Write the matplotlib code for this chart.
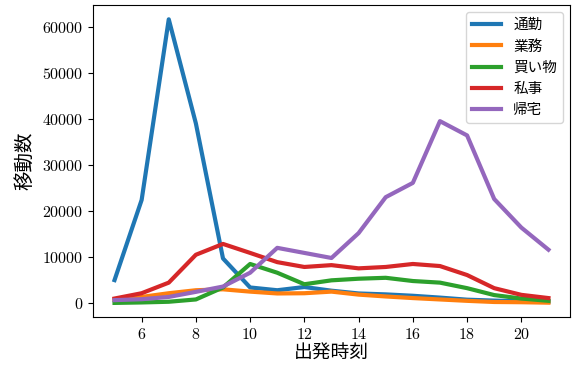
import numpy as np
import matplotlib.pyplot as plt

plt.rcParams['font.family'] = ['cmr10', 'Noto Sans CJK JP', 'DejaVu Sans']
plt.rcParams['axes.formatter.use_mathtext'] = True

hours = np.arange(5, 22)
tsukin = [5000, 22400, 61600, 39000, 9700, 3400, 2800, 3500, 2700, 2100, 1900, 1600, 1200, 750, 550, 400, 300]
gyomu = [850, 1350, 2150, 2800, 3000, 2500, 2100, 2150, 2500, 1850, 1450, 1100, 800, 500, 250, 200, 100]
kaimono = [50, 150, 300, 800, 3400, 8500, 6600, 4100, 4950, 5300, 5500, 4800, 4450, 3250, 1750, 1000, 500]
shiji = [1000, 2150, 4450, 10500, 12850, 10900, 8900, 7850, 8250, 7550, 7850, 8500, 8050, 6100, 3250, 1800, 1100]
kitaku = [650, 850, 1350, 2450, 3600, 6600, 12000, 10900, 9800, 15200, 23000, 26100, 39500, 36400, 22600, 16400, 11600]

labels = ['通勤', '業務', '買い物', '私事', '帰宅']
series = [tsukin, gyomu, kaimono, shiji, kitaku]

fig = plt.figure(figsize=(5.73, 3.67), dpi=100)
ax = fig.add_axes([0.162, 0.136, 0.833, 0.85])
for lab, vals in zip(labels, series):
    ax.plot(hours, vals, linewidth=3, label=lab)

ax.set_xticks(range(6, 22, 2))
ax.set_yticks(range(0, 60001, 10000))
ax.tick_params(labelsize=11.5)
ax.set_xlabel('出発時刻', fontsize=13.5, family=['Noto Sans CJK JP'], labelpad=0)
ax.set_ylabel('移動数', fontsize=14, family=['Noto Sans CJK JP'], labelpad=5)
ax.legend(loc='upper right', prop={'family': 'Noto Sans CJK JP', 'size': 10.5},
          handlelength=2.0, labelspacing=0.5)
fig.savefig('out.png', dpi=100)
